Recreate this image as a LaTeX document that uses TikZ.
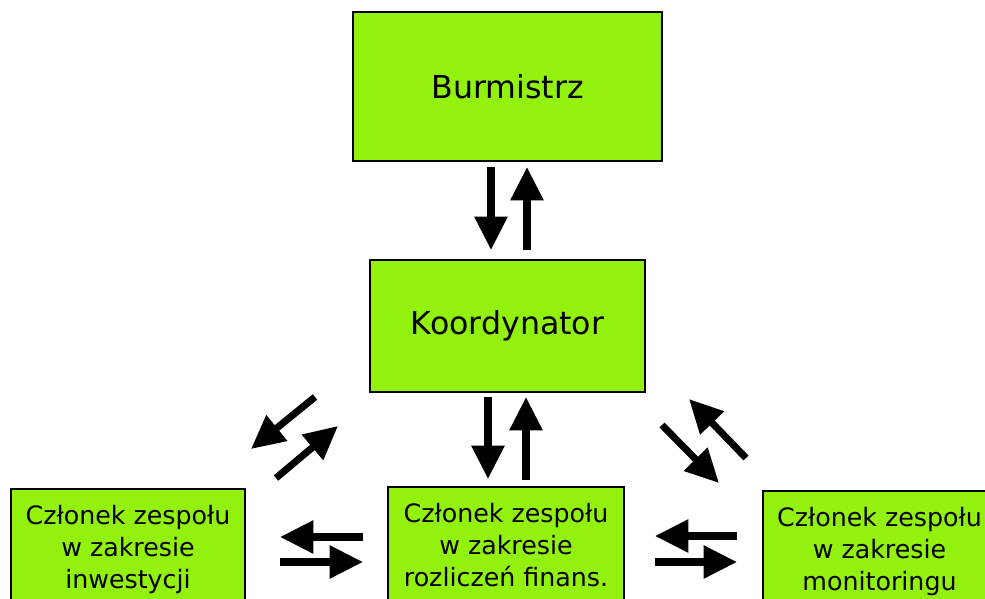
\documentclass[tikz,border=0pt]{standalone}
\usepackage{fontspec}
\setmainfont{DejaVu Sans}
\usetikzlibrary{arrows.meta}
\definecolor{lime}{RGB}{146,242,13}
\tikzset{>={Triangle[length=19pt,width=18pt]},
	box/.style={draw=black,line width=1.1pt,fill=lime,inner sep=0pt,outer sep=0pt,align=center},
	big/.style={font=\fontsize{18}{22}\selectfont},
	small/.style={font=\fontsize{14.4}{18.4}\selectfont,inner ysep=9pt,text depth=50pt,anchor=north},
	arr/.style={line width=4pt,->},
}

\begin{document}
\begin{tikzpicture}[x=0.02cm,y=-0.02cm]
			\useasboundingbox (0,0) rectangle (985,599);
			\clip (0,0) rectangle (985,599);
			% boxes
			\node[box,big,minimum width=6.18cm,minimum height=2.98cm] (bur) at (507.5,86.5) {Burmistrz};
			\node[box,big,minimum width=5.5cm,minimum height=2.64cm] (koo) at (507.5,326) {Koordynator};
			\node[box,small,minimum width=4.68cm] (inw) at (128,489) {Członek zespołu\\w zakresie\\inwestycji};
			\node[box,small,minimum width=4.72cm] (fin) at (506,487) {Członek zespołu\\w zakresie\\rozliczeń finans.};
			\node[box,small,minimum width=4.66cm] (mon) at (879.5,491) {Członek zespołu\\w zakresie\\monitoringu};
			% arrow ends
			\coordinate (Bdn) at (491,167);
			\coordinate (Kdn) at (491,250);
			\coordinate (Kup) at (527,250);
			\coordinate (Bup) at (527,167);
			\coordinate (Kdm) at (488,397);
			\coordinate (Fdm) at (488,479);
			\coordinate (Fum) at (526,480);
			\coordinate (Kum) at (526,397);
			\coordinate (Kdl) at (315,397);
			\coordinate (Idl) at (251,449);
			\coordinate (Iul) at (276,478);
			\coordinate (Kul) at (338,426);
			\coordinate (Fl) at (363,537);
			\coordinate (Il) at (280,537);
			\coordinate (Ir) at (280,562);
			\coordinate (Fr) at (363,562);
			\coordinate (Kdr) at (662,425);
			\coordinate (Mdr) at (719,483);
			\coordinate (Mur) at (746,458);
			\coordinate (Kur) at (689,399);
			\coordinate (Ml) at (737,536);
			\coordinate (Fl2) at (655,536);
			\coordinate (Fr2) at (655,562);
			\coordinate (Mr) at (737,562);
			% arrows
			\draw[arr] (Bdn)--(Kdn);
			\draw[arr] (Kup)--(Bup);
			\draw[arr] (Kdm)--(Fdm);
			\draw[arr] (Fum)--(Kum);
			\draw[arr] (Kdl)--(Idl);
			\draw[arr] (Iul)--(Kul);
			\draw[arr] (Fl)--(Il);
			\draw[arr] (Ir)--(Fr);
			\draw[arr] (Kdr)--(Mdr);
			\draw[arr] (Mur)--(Kur);
			\draw[arr] (Ml)--(Fl2);
			\draw[arr] (Fr2)--(Mr);
		\end{tikzpicture}
\end{document}
